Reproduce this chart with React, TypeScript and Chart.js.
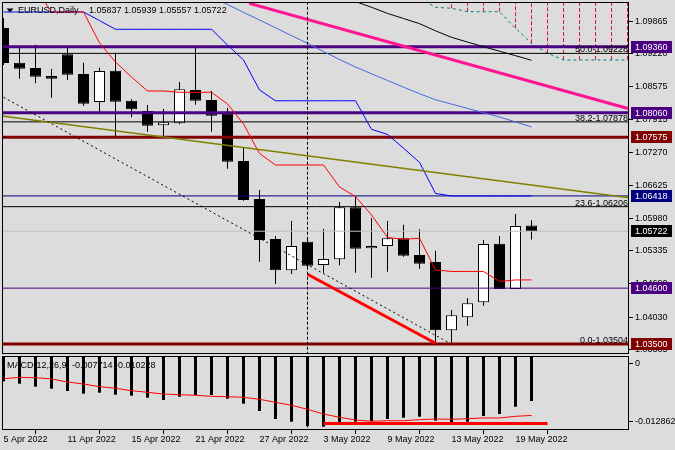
import React, { useEffect, useRef } from 'react';
import { Chart, registerables } from 'chart.js';

Chart.register(...registerables);

// ---------- data ----------
const barDates = ['5 Apr 2022','6 Apr 2022','7 Apr 2022','8 Apr 2022','11 Apr 2022','12 Apr 2022','13 Apr 2022','14 Apr 2022','15 Apr 2022','18 Apr 2022','19 Apr 2022','20 Apr 2022','21 Apr 2022','22 Apr 2022','25 Apr 2022','26 Apr 2022','27 Apr 2022','28 Apr 2022','29 Apr 2022','2 May 2022','3 May 2022','4 May 2022','5 May 2022','6 May 2022','9 May 2022','10 May 2022','11 May 2022','12 May 2022','13 May 2022','16 May 2022','17 May 2022','18 May 2022','19 May 2022','20 May 2022'];
const dateTickIndices = [0, 4, 8, 12, 16, 20, 24, 28, 32];

const opens  = [1.09729,1.09045,1.08940,1.08783,1.09210,1.08822,1.08270,1.08887,1.08296,1.08093,1.07811,1.07850,1.08507,1.08310,1.08047,1.07107,1.06358,1.05570,1.04953,1.05517,1.05057,1.05170,1.06195,1.05387,1.05432,1.05584,1.05254,1.05116,1.03770,1.04027,1.04322,1.05477,1.04584,1.05837];
const highs  = [1.09926,1.09348,1.09399,1.08920,1.09348,1.09045,1.08946,1.09242,1.08323,1.08211,1.08132,1.08664,1.09374,1.08493,1.08158,1.07369,1.06536,1.05629,1.05925,1.05590,1.05767,1.06299,1.06404,1.05984,1.05925,1.05852,1.05761,1.05339,1.04171,1.04407,1.05550,1.05629,1.06063,1.05939];
const lows   = [1.08999,1.08729,1.08639,1.08355,1.08704,1.08191,1.08079,1.07574,1.07968,1.07685,1.07586,1.07830,1.08217,1.07685,1.06955,1.06325,1.05122,1.04683,1.04880,1.04998,1.04906,1.05051,1.04906,1.04807,1.04925,1.05221,1.04984,1.03514,1.03500,1.03861,1.04255,1.04584,1.04584,1.05557];
const closes = [1.09039,1.08926,1.08769,1.08729,1.08808,1.08237,1.08881,1.08276,1.08126,1.07803,1.07870,1.08520,1.08296,1.08000,1.07093,1.06338,1.05550,1.04953,1.05432,1.05044,1.05176,1.06195,1.05379,1.05432,1.05584,1.05241,1.05083,1.03770,1.04066,1.04302,1.05471,1.04584,1.05826,1.05722];

const tenkan = [1.10517,1.10517,1.10517,1.10044,1.10044,1.10044,1.09433,1.09058,1.08763,1.08487,1.08487,1.08461,1.08461,1.08461,1.08231,1.07836,1.07255,1.07028,1.07028,1.07028,1.07028,1.06595,1.06404,1.06043,1.05599,1.05564,1.05584,1.04959,1.04929,1.04929,1.04929,1.04732,1.04762,1.04762];
const kijun  = [1.10044,1.10044,1.10044,1.10044,1.10044,1.10044,1.09874,1.09703,1.09703,1.09703,1.09703,1.09703,1.09703,1.09703,1.09394,1.09098,1.08507,1.08294,1.08294,1.08294,1.08294,1.08294,1.08294,1.07732,1.07630,1.07359,1.07080,1.06467,1.06418,1.06418,1.06418,1.06418,1.06418,1.06418];
const blueMA = [null,null,null,null,null,null,null,null,null,null,null,null,null,1.10340,1.10192,1.10038,1.09886,1.09733,1.09579,1.09427,1.09265,1.09108,1.08958,1.08826,1.08694,1.08562,1.08434,1.08313,1.08229,1.08144,1.08059,1.07974,1.07876,1.07779];
const blackMA = [null,null,null,null,null,null,null,null,null,null,null,null,null,null,null,null,null,null,null,null,null,1.10359,1.10249,1.10137,1.10016,1.09916,1.09815,1.09673,1.09545,1.09451,1.09360,1.09271,1.09183,1.09092];
// leading span, extends 6 bars into the future (index 34..39)
const senkouB = [null,null,null,null,null,null,null,null,null,null,null,null,null,null,null,null,null,null,null,null,null,null,null,null,null,null,1.10320,1.10137,1.10117,1.10050,1.10050,1.10050,1.09723,1.09427,1.09230,1.09098,1.09098,1.09098,1.09098,1.09098];
const cloudHatchIndices = [28,29,30,31,32,33,34,35,36,37,38,39];

const macdHist   = [-0.00430,-0.00470,-0.00522,-0.00557,-0.00597,-0.00644,-0.00627,-0.00662,-0.00679,-0.00714,-0.00754,-0.00697,-0.00667,-0.00667,-0.00731,-0.00818,-0.00946,-0.01085,-0.01132,-0.01207,-0.01219,-0.01149,-0.01132,-0.01120,-0.01085,-0.01062,-0.01045,-0.01114,-0.01149,-0.01132,-0.01033,-0.00998,-0.00871,-0.007714];
const macdSignal = [-0.00383,-0.00359,-0.00366,-0.00388,-0.00441,-0.00475,-0.00522,-0.00550,-0.00592,-0.00620,-0.00650,-0.00662,-0.00672,-0.00690,-0.00697,-0.00707,-0.00742,-0.00794,-0.00846,-0.00916,-0.00998,-0.01055,-0.01102,-0.01125,-0.01114,-0.01114,-0.01097,-0.01085,-0.01090,-0.01080,-0.01067,-0.01067,-0.01038,-0.010228];

// horizontal levels
const thickLevels = [1.09360, 1.08060, 1.07575, 1.03500];
const thickLevelColors = ['#4b0082', '#4b0082', '#800000', '#800000'];
const thinLevels = [1.06418, 1.05722, 1.04600];
const thinLevelColors = ['#000080', '#c0c0c0', '#4b0082'];
const fibLevels = ['50.0', '38.2', '23.6', '0.0'];
const fibValues = [1.09228, 1.07878, 1.06206, 1.03504];

// axis labels
const priceTicks = [1.09865, 1.09220, 1.08575, 1.07915, 1.07270, 1.06625, 1.05980, 1.05335, 1.04690, 1.04030, 1.03385];
const boxValues = [1.09360, 1.08060, 1.07575, 1.06418, 1.05722, 1.04600, 1.03500];
const boxColors = ['#4b0082', '#4b0082', '#800000', '#000080', '#000000', '#4b0082', '#800000'];
const macdAxisTickValues = [-0.00115, -0.01120];
const macdAxisTickLabels = ['0', '-0.012862'];

// drawn objects (time index, price)
const pinkTrendX = [15.36, 39.03];
const pinkTrendY = [1.10215, 1.08142];
const oliveTrendX = [-0.09, 39.09];
const oliveTrendY = [1.07994, 1.06380];
const dashTrendX = [0, 27.9];
const dashTrendY = [1.08363, 1.03514];
const redTrendX = [19, 27];
const redTrendY = [1.04874, 1.03514];
const separatorIndex = 19;
const macdLineX = [20, 34];
const macdLineY = [-0.01163, -0.01163];

const symbolText = 'EURUSD,Daily';
const macdText = 'MACD(12,26,9) -0.007714 -0.010228';

// ---------- layout / style ----------
const BG = '#dcdcdc';
const FAMILY = '"Liberation Sans", Arial, sans-serif';
const FONT = '9px ' + FAMILY;
const X_MIN = -0.09375;
const X_MAX = 39.09375;
const P_MIN = 1.03302;
const P_MAX = 1.10241;
const M_MIN = -0.012763;
const M_MAX = 0.000122;

const pairs = (xs: number[], ys: number[]) => xs.map((x, i) => ({ x, y: ys[i] }));
const series = (arr: (number | null)[]) => arr.map((v, i) => ({ x: i, y: v }));

const line = (data: any[], color: string, width: number, order: number, dash: number[] = []) => ({
  type: 'line' as const,
  data,
  borderColor: color,
  borderWidth: width,
  borderDash: dash,
  pointRadius: 0,
  pointHoverRadius: 0,
  fill: false,
  tension: 0,
  spanGaps: false,
  order,
  clip: 0,
});

const framePlugin = {
  id: 'frame',
  afterDraw(chart: any) {
    const { ctx, chartArea: a } = chart;
    ctx.save();
    ctx.strokeStyle = '#000';
    ctx.lineWidth = 1;
    ctx.strokeRect(a.left + 0.5, a.top + 0.5, a.right - a.left - 1, a.bottom - a.top - 1);
    ctx.restore();
  },
};

export default function App() {
  const priceRef = useRef<HTMLCanvasElement>(null);
  const macdRef = useRef<HTMLCanvasElement>(null);

  useEffect(() => {
    document.body.style.margin = '0';
    document.body.style.background = BG;

    const hatch: any[] = [];
    cloudHatchIndices.forEach((i) => {
      hatch.push({ x: i, y: senkouB[i] });
      hatch.push({ x: i, y: P_MAX + 0.002 });
      hatch.push({ x: i, y: null });
    });

    const priceDatasets: any[] = [
      {
        type: 'bar',
        data: highs.map((h, i) => ({ x: i, y: [lows[i], h] })),
        backgroundColor: '#000',
        borderWidth: 0,
        barThickness: 1,
        inflateAmount: 0,
        grouped: false,
        order: 100,
        clip: 0,
      },
      {
        type: 'bar',
        data: opens.map((o, i) => ({ x: i, y: [o, closes[i]] })),
        backgroundColor: closes.map((c, i) => (c >= opens[i] ? '#ffffff' : '#000000')),
        borderColor: '#000',
        borderWidth: 1,
        borderSkipped: false,
        barThickness: 11,
        inflateAmount: 0,
        grouped: false,
        order: 99,
        clip: 0,
      },
      line(hatch, '#dc143c', 1, 60, [4, 2]),
      line(series(senkouB), '#008080', 1, 59, [3, 3]),
      ...fibValues.map((v) => line(pairs([X_MIN, X_MAX], [v, v]), '#000', 1, 50)),
      ...thinLevels.map((v, i) => line(pairs([X_MIN, X_MAX], [v, v]), thinLevelColors[i], 1, 48)),
      ...thickLevels.map((v, i) => line(pairs([X_MIN, X_MAX], [v, v]), thickLevelColors[i], 3, 40)),
      line(series(kijun), '#0000ff', 1, 30),
      line(series(tenkan), '#ff0000', 1, 29),
      line(series(blueMA), '#4169e1', 1, 28),
      line(series(blackMA), '#000000', 1, 27),
      line(pairs(oliveTrendX, oliveTrendY), '#808000', 1.5, 20),
      line(pairs(dashTrendX, dashTrendY), '#000000', 1, 19, [2, 3]),
      line(pairs(pinkTrendX, pinkTrendY), '#ff1493', 3, 18),
      line(pairs(redTrendX, redTrendY), '#ff0000', 3, 17),
      line(pairs([separatorIndex, separatorIndex], [P_MIN - 0.01, P_MAX + 0.01]), '#000000', 1, 16, [3, 2]),
    ];

    const priceOverlay = {
      id: 'priceOverlay',
      afterDraw(chart: any) {
        const { ctx, chartArea: a, scales } = chart;
        const y = scales.y;
        ctx.save();
        ctx.font = FONT;
        // fibo labels
        ctx.fillStyle = '#000';
        ctx.textAlign = 'right';
        ctx.textBaseline = 'alphabetic';
        fibValues.forEach((v, i) => {
          ctx.fillText(fibLevels[i] + '-' + v.toFixed(5), a.right - 1, y.getPixelForValue(v) - 1);
        });
        // title
        ctx.beginPath();
        ctx.moveTo(6.5, 8.5);
        ctx.lineTo(13.5, 8.5);
        ctx.lineTo(10, 12.5);
        ctx.closePath();
        ctx.fill();
        ctx.textAlign = 'left';
        ctx.textBaseline = 'middle';
        const last = opens.length - 1;
        ctx.fillText(symbolText, 18, 11);
        ctx.fillText(
          [opens[last], highs[last], lows[last], closes[last]].map((v) => v.toFixed(5)).join(' '),
          89,
          11
        );
        // axis boxes
        boxValues.forEach((v, i) => {
          const py = Math.round(y.getPixelForValue(v));
          ctx.fillStyle = boxColors[i];
          ctx.fillRect(631, py - 6, 41, 12);
          ctx.fillStyle = '#fff';
          ctx.fillText(v.toFixed(5), 635, py + 0.5);
        });
        ctx.restore();
      },
    };

    const c1 = new Chart(priceRef.current!, {
      type: 'bar',
      data: { datasets: priceDatasets },
      options: {
        animation: false,
        responsive: false,
        events: [],
        layout: { padding: { left: 2, top: 2, right: 0, bottom: 1 } },
        plugins: { legend: { display: false }, tooltip: { enabled: false } },
        scales: {
          x: { type: 'linear', min: X_MIN, max: X_MAX, display: false, offset: false },
          y: {
            type: 'linear',
            position: 'right',
            min: P_MIN,
            max: P_MAX,
            afterBuildTicks: (s: any) => {
              s.ticks = priceTicks.map((v) => ({ value: v }));
            },
            afterFit: (s: any) => {
              s.width = 46;
              s.paddingTop = 0;
              s.paddingBottom = 0;
            },
            ticks: {
              autoSkip: false,
              padding: 2,
              color: '#000',
              font: { family: FAMILY, size: 9 },
              callback: (v: any) => Number(v).toFixed(5),
            },
            grid: { drawOnChartArea: false, drawTicks: true, tickLength: 4, color: '#000' },
            border: { display: false },
          },
        },
      } as any,
      plugins: [framePlugin, priceOverlay],
    });

    const macdDatasets: any[] = [
      {
        type: 'bar',
        data: macdHist.map((v, i) => ({ x: i, y: v })),
        backgroundColor: '#000',
        borderWidth: 0,
        barThickness: 3,
        inflateAmount: 0,
        grouped: false,
        order: 100,
        clip: 0,
      },
      line(series(macdSignal), '#ff0000', 1, 20),
      line(pairs(macdLineX, macdLineY), '#ff0000', 3, 10),
      line(pairs([separatorIndex, separatorIndex], [M_MIN - 0.01, M_MAX + 0.01]), '#000000', 1, 5, [3, 2]),
    ];

    const macdOverlay = {
      id: 'macdOverlay',
      afterDraw(chart: any) {
        const { ctx } = chart;
        ctx.save();
        ctx.font = FONT;
        ctx.fillStyle = '#000';
        ctx.textAlign = 'left';
        ctx.textBaseline = 'middle';
        ctx.fillText(macdText, 7, 10.5);
        ctx.restore();
      },
    };

    const c2 = new Chart(macdRef.current!, {
      type: 'bar',
      data: { datasets: macdDatasets },
      options: {
        animation: false,
        responsive: false,
        events: [],
        layout: { padding: { left: 2, top: 1, right: 0, bottom: 0 } },
        plugins: { legend: { display: false }, tooltip: { enabled: false } },
        scales: {
          x: {
            type: 'linear',
            min: X_MIN,
            max: X_MAX,
            offset: false,
            afterBuildTicks: (s: any) => {
              s.ticks = dateTickIndices.map((v) => ({ value: v }));
            },
            afterFit: (s: any) => {
              s.height = 20;
              s.paddingLeft = 0;
              s.paddingRight = 0;
            },
            ticks: {
              autoSkip: false,
              maxRotation: 0,
              minRotation: 0,
              align: 'start',
              padding: 0,
              color: '#000',
              font: { family: FAMILY, size: 9 },
              callback: (v: any) => barDates[Math.round(Number(v))],
            },
            grid: { drawOnChartArea: false, drawTicks: true, tickLength: 4, color: '#000' },
            border: { display: false },
          },
          y: {
            type: 'linear',
            position: 'right',
            min: M_MIN,
            max: M_MAX,
            afterBuildTicks: (s: any) => {
              s.ticks = macdAxisTickValues.map((v) => ({ value: v }));
            },
            afterFit: (s: any) => {
              s.width = 46;
              s.paddingTop = 0;
              s.paddingBottom = 0;
            },
            ticks: {
              autoSkip: false,
              padding: 2,
              color: '#000',
              font: { family: FAMILY, size: 9 },
              callback: (_v: any, idx: number) => macdAxisTickLabels[idx],
            },
            grid: { drawOnChartArea: false, drawTicks: true, tickLength: 4, color: '#000' },
            border: { display: false },
          },
        },
      } as any,
      plugins: [framePlugin, macdOverlay],
    });

    return () => {
      c1.destroy();
      c2.destroy();
    };
  }, []);

  return (
    <div style={{ position: 'fixed', left: 0, top: 0, width: 675, height: 450, background: BG, overflow: 'hidden' }}>
      <canvas ref={priceRef} width={675} height={355} style={{ position: 'absolute', left: 0, top: 0, width: 675, height: 355 }} />
      <canvas ref={macdRef} width={675} height={95} style={{ position: 'absolute', left: 0, top: 355, width: 675, height: 95 }} />
    </div>
  );
}
